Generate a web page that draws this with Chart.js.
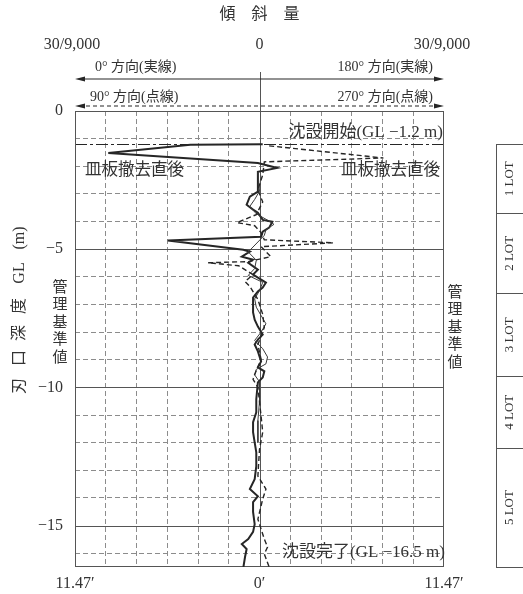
<!DOCTYPE html>
<html lang="ja">
<head>
<meta charset="utf-8">
<title>刃口深度と傾斜量</title>
<script src="https://cdn.jsdelivr.net/npm/chart.js@4.4.1/dist/chart.umd.min.js"></script>
<style>
  html, body { margin: 0; padding: 0; background: #fff; }
  #wrap { position: relative; width: 523px; height: 594px; }
</style>
</head>
<body>
<div id="wrap"><canvas id="tilt-chart"></canvas></div>
<script>
// Tilt in arc minutes (negative = 0° side, positive = 180° side), depth as GL (m)
var tiltRange = 11.47;          // 30/9,000 rad
var gridDivisions = 6;          // dashed columns per side

// 0°/180° direction (solid)
var depthMain = [
  -1.2, -1.22, -1.52, -1.88, -2.06, -2.2, -2.92, -3.1, -3.39, -3.57,
  -3.68, -3.94, -4.01, -4.22, -4.37, -4.55, -4.69, -5.02, -5.09, -5.27,
  -5.38, -5.49, -5.74, -5.92, -6.1, -6.21, -6.39, -6.53, -6.75, -7.08,
  -7.29, -7.55, -7.8, -8.09, -8.27, -8.45, -8.7, -9.06, -9.28, -9.42,
  -9.64, -9.82, -10.43, -10.9, -11.26, -11.62, -11.99, -12.35, -12.85, -13.32,
  -13.68, -13.94, -14.15, -14.51, -14.95, -15.23, -15.49, -15.67, -15.85, -16.14,
  -16.5
];
var tiltMain = [
  0.2, -4.3, -9.4, -0.1, 1.1, -0.1, -0.1, -0.6, -0.8, -0.4,
  -0.1, 0.2, 0.8, 0.6, 0.2, 0.1, -5.7, -1.0, -0.6, -1.1,
  -0.4, -0.7, -0.1, -0.4, 0.1, 0.4, 0.2, -0.1, -0.4, -0.4,
  -0.4, -0.3, -0.1, 0.2, -0.1, -0.3, -0.1, 0.1, -0.1, 0.3,
  0.2, -0.1, -0.2, -0.2, -0.4, -0.4, -0.3, -0.2, -0.2, -0.3,
  -0.6, -0.1, -0.4, -0.4, -0.3, -0.4, -0.7, -1.1, -0.8, -0.9,
  -1.0
];

// second solid trace running alongside the main one
var depthSub = [
  -2.2, -2.9, -3.2, -3.45, -3.72, -3.95, -4.1, -4.3, -4.5, -5.1,
  -5.4, -5.7, -5.95, -6.2, -6.5, -6.8, -7.1, -7.4, -7.7, -8.0,
  -8.3, -8.6, -8.9, -9.15, -9.35, -9.55, -9.8, -10.5, -11.2, -12.0
];
var tiltSub = [
  -0.1, 0.0, -0.3, -0.6, -0.2, 0.5, 0.9, 0.4, 0.3, -0.7,
  -0.2, -0.3, -0.7, 0.2, 0.0, -0.3, -0.2, 0.1, 0.4, 0.1,
  -0.3, 0.2, 0.5, 0.4, -0.2, -0.3, 0.0, 0.0, -0.1, -0.1
];

// 90°/270° direction (dashed)
var depthCross = [
  -1.26, -1.7, -1.84, -2.31, -2.85, -3.29, -3.75, -4.04, -4.15, -4.4,
  -4.66, -4.77, -4.91, -5.27, -5.45, -5.49, -5.6, -5.92, -6.17, -6.35,
  -6.82, -7.36, -7.83, -8.45, -8.99, -9.53, -9.71, -10.0, -11.05, -11.62,
  -12.24, -13.21, -13.68, -14.04, -14.77, -15.49, -15.78, -16.03, -16.5
];
var tiltCross = [
  0.6, 7.7, 0.3, 0.2, -0.1, 0.2, -0.2, -1.4, -0.3, 0.1,
  0.3, 4.6, 0.1, 0.7, -0.7, -3.2, -1.3, -0.4, -0.9, -0.6,
  -0.1, 0.2, 0.3, -0.1, 0.1, -0.3, -0.4, -0.1, 0.1, 0.2,
  0.0, -0.1, 0.4, 0.2, -0.1, 0.3, 0.5, 0.3, 0.6
];

var depthGridTicks = [0, -1, -2, -3, -4, -5, -6, -7, -8, -9, -10, -11, -12, -13, -14, -15, -16];
var startDepth = -1.2;
var endDepth = -16.5;
var lotNames = ['1 LOT', '2 LOT', '3 LOT', '4 LOT', '5 LOT'];
var lotBounds = [-1.2, -3.7, -6.6, -9.6, -12.2, -16.5];

var SERIF = "'Liberation Serif', 'Noto Sans CJK JP', serif";
var INK = '#262626';
var TEXT = '#333333';
var GRID = '#8c8c8c';
var RULE = '#555555';

function toPoints(tilts, depths) {
  return tilts.map(function (t, i) { return { x: t, y: depths[i] }; });
}

function near(a, b) { return Math.abs(a - b) < 1e-6; }

function line(ctx, x1, y1, x2, y2) {
  ctx.beginPath();
  ctx.moveTo(x1, y1);
  ctx.lineTo(x2, y2);
  ctx.stroke();
}

function txt(ctx, s, x, y, size, align) {
  ctx.font = size + 'px ' + SERIF;
  ctx.textAlign = align || 'center';
  ctx.textBaseline = 'middle';
  ctx.fillText(s, x, y);
}

function arrow(ctx, x1, x2, y, dashed) {
  ctx.save();
  ctx.strokeStyle = INK;
  ctx.fillStyle = INK;
  ctx.lineWidth = 1.2;
  if (dashed) ctx.setLineDash([4, 3]);
  line(ctx, x1 + 4, y, x2 - 4, y);
  ctx.setLineDash([]);
  [[x1, 1], [x2, -1]].forEach(function (end) {
    ctx.beginPath();
    ctx.moveTo(end[0], y);
    ctx.lineTo(end[0] + end[1] * 10, y - 2.5);
    ctx.lineTo(end[0] + end[1] * 10, y + 2.5);
    ctx.closePath();
    ctx.fill();
  });
  ctx.restore();
}

function stacked(ctx, s, x, y0, step, size) {
  for (var i = 0; i < s.length; i++) txt(ctx, s[i], x, y0 + i * step, size, 'center');
}

var decorPlugin = {
  id: 'decor',
  beforeDatasetsDraw: function (chart) {
    var ctx = chart.ctx, area = chart.chartArea;
    var xs = chart.scales.x, ys = chart.scales.y;
    ctx.save();
    ctx.strokeStyle = RULE;
    ctx.lineWidth = 1;
    // solid rules every 5 m
    depthGridTicks.forEach(function (d) {
      if (d === 0 || d % 5 !== 0) return;
      var y = Math.round(ys.getPixelForValue(d)) + 0.5;
      line(ctx, area.left, y, area.right, y);
    });
    // centre line, carried up through the direction arrows
    var cx = Math.round(xs.getPixelForValue(0)) + 0.5;
    line(ctx, cx, area.top - 39, cx, area.bottom);
    // sinking start
    ctx.strokeStyle = INK;
    ctx.setLineDash([12, 3, 3, 3]);
    var y0 = Math.round(ys.getPixelForValue(startDepth)) + 0.5;
    line(ctx, area.left, y0, area.right, y0);
    ctx.setLineDash([]);
    ctx.strokeStyle = RULE;
    ctx.strokeRect(area.left + 0.5, area.top + 0.5, area.width - 1, area.height - 1);
    ctx.restore();
  },
  afterDraw: function (chart) {
    var ctx = chart.ctx, area = chart.chartArea;
    var xs = chart.scales.x, ys = chart.scales.y;
    var cx = xs.getPixelForValue(0);
    var top = area.top;
    ctx.save();
    ctx.fillStyle = TEXT;

    // header
    txt(ctx, '傾　斜　量', cx, top - 96, 16);
    txt(ctx, '30/9,000', area.left - 3, top - 66, 16);
    txt(ctx, '0', cx, top - 66, 16);
    txt(ctx, '30/9,000', area.right - 2, top - 66, 16);
    arrow(ctx, area.left, area.right, top - 32, false);
    arrow(ctx, area.left, area.right, top - 5, true);
    txt(ctx, '0° 方向(実線)', area.left + 20, top - 44, 14, 'left');
    txt(ctx, '180° 方向(実線)', area.right - 11, top - 44, 14, 'right');
    txt(ctx, '90° 方向(点線)', area.left + 15, top - 14, 14, 'left');
    txt(ctx, '270° 方向(点線)', area.right - 11, top - 14, 14, 'right');

    // annotations in the plot
    txt(ctx, '沈設開始(GL −1.2 m)', area.right - 1, ys.getPixelForValue(startDepth) - 12, 17, 'right');
    txt(ctx, '皿板撤去直後', area.left + 10, ys.getPixelForValue(-2.17), 16.5, 'left');
    txt(ctx, '皿板撤去直後', area.right - 4, ys.getPixelForValue(-2.17), 16.5, 'right');
    txt(ctx, '沈設完了(GL −16.5 m)', area.right + 1, ys.getPixelForValue(endDepth) - 14, 17, 'right');

    // control limit notes
    stacked(ctx, '管理基準値', area.left - 15, ys.getPixelForValue(-6.4), 17.5, 15);
    stacked(ctx, '管理基準値', area.right + 11, ys.getPixelForValue(-6.57), 17.5, 15);

    // axis title, rotated
    ctx.save();
    ctx.translate(20, 0);
    ctx.rotate(-Math.PI / 2);
    [['刃', 386], ['口', 358], ['深', 333], ['度', 306], ['GL', 273], ['(m)', 238]].forEach(function (p) {
      txt(ctx, p[0], -p[1], 0, 16);
    });
    ctx.restore();

    // LOT column
    var bx = 496, bw = 27;
    ctx.strokeStyle = RULE;
    ctx.lineWidth = 1;
    var ytop = Math.round(ys.getPixelForValue(lotBounds[0])) + 0.5;
    var ybot = Math.round(ys.getPixelForValue(lotBounds[lotBounds.length - 1])) + 0.5;
    ctx.strokeRect(bx + 0.5, ytop, bw, ybot - ytop);
    for (var i = 0; i < lotNames.length; i++) {
      var ya = ys.getPixelForValue(lotBounds[i]);
      var yb = ys.getPixelForValue(lotBounds[i + 1]);
      if (i > 0) line(ctx, bx, Math.round(ya) + 0.5, bx + bw, Math.round(ya) + 0.5);
      ctx.save();
      ctx.translate(bx + bw / 2 + 0.5, (ya + yb) / 2);
      ctx.rotate(-Math.PI / 2);
      txt(ctx, lotNames[i], 0, 0, 13);
      ctx.restore();
    }
    ctx.restore();
  }
};

function renderTiltChart() {
  var canvasEl = document.getElementById('tilt-chart');
  var ctx = canvasEl.getContext('2d');

  new Chart(ctx, {
    type: 'scatter',
    data: {
      datasets: [
        {
          label: '90°・270° 方向',
          data: toPoints(tiltCross, depthCross),
          showLine: true,
          borderColor: INK,
          borderWidth: 1.4,
          borderDash: [5, 3],
          pointRadius: 0,
          tension: 0
        },
        {
          label: '0°・180° 方向 (2)',
          data: toPoints(tiltSub, depthSub),
          showLine: true,
          borderColor: '#3a3a3a',
          borderWidth: 1,
          pointRadius: 0,
          tension: 0
        },
        {
          label: '0°・180° 方向',
          data: toPoints(tiltMain, depthMain),
          showLine: true,
          borderColor: INK,
          borderWidth: 2,
          pointRadius: 0,
          tension: 0
        }
      ]
    },
    options: {
      responsive: true,
      maintainAspectRatio: false,
      animation: false,
      devicePixelRatio: 1,
      layout: { padding: { top: 111, right: 79, bottom: 0, left: 0 } },
      scales: {
        x: {
          type: 'linear',
          min: -tiltRange,
          max: tiltRange,
          afterBuildTicks: function (scale) {
            var ticks = [];
            for (var i = -gridDivisions; i <= gridDivisions; i++) {
              ticks.push({ value: i * tiltRange / gridDivisions });
            }
            scale.ticks = ticks;
          },
          afterFit: function (scale) { scale.height = 27; },
          ticks: {
            autoSkip: false,
            maxRotation: 0,
            padding: 7,
            color: TEXT,
            font: { family: SERIF, size: 16 },
            callback: function (v) {
              if (near(v, 0)) return '0′';
              if (near(Math.abs(v), tiltRange)) return '11.47′';
              return '';
            }
          },
          grid: {
            drawTicks: false,
            lineWidth: 1,
            color: function (c) {
              var v = c.tick ? c.tick.value : 0;
              return (near(v, 0) || near(Math.abs(v), tiltRange)) ? 'rgba(0,0,0,0)' : GRID;
            }
          },
          border: { display: false, dash: [5, 3] }
        },
        y: {
          type: 'linear',
          min: endDepth,
          max: 0,
          afterBuildTicks: function (scale) {
            scale.ticks = depthGridTicks.map(function (v) { return { value: v }; });
          },
          afterFit: function (scale) { scale.width = 75; },
          ticks: {
            autoSkip: false,
            padding: 12,
            color: TEXT,
            font: { family: SERIF, size: 16 },
            callback: function (v) {
              if (v % 5 !== 0) return '';
              return v === 0 ? '0' : '−' + Math.abs(v);
            }
          },
          grid: {
            drawTicks: false,
            lineWidth: 1,
            color: function (c) {
              var v = c.tick ? c.tick.value : 0;
              return (v % 5 === 0) ? 'rgba(0,0,0,0)' : GRID;
            }
          },
          border: { display: false, dash: [5, 3] }
        }
      },
      plugins: {
        legend: { display: false },
        tooltip: { enabled: false }
      }
    },
    plugins: [decorPlugin]
  });
}

if (document.readyState === 'loading') {
  document.addEventListener('DOMContentLoaded', renderTiltChart);
} else {
  renderTiltChart();
}
</script>
</body>
</html>
